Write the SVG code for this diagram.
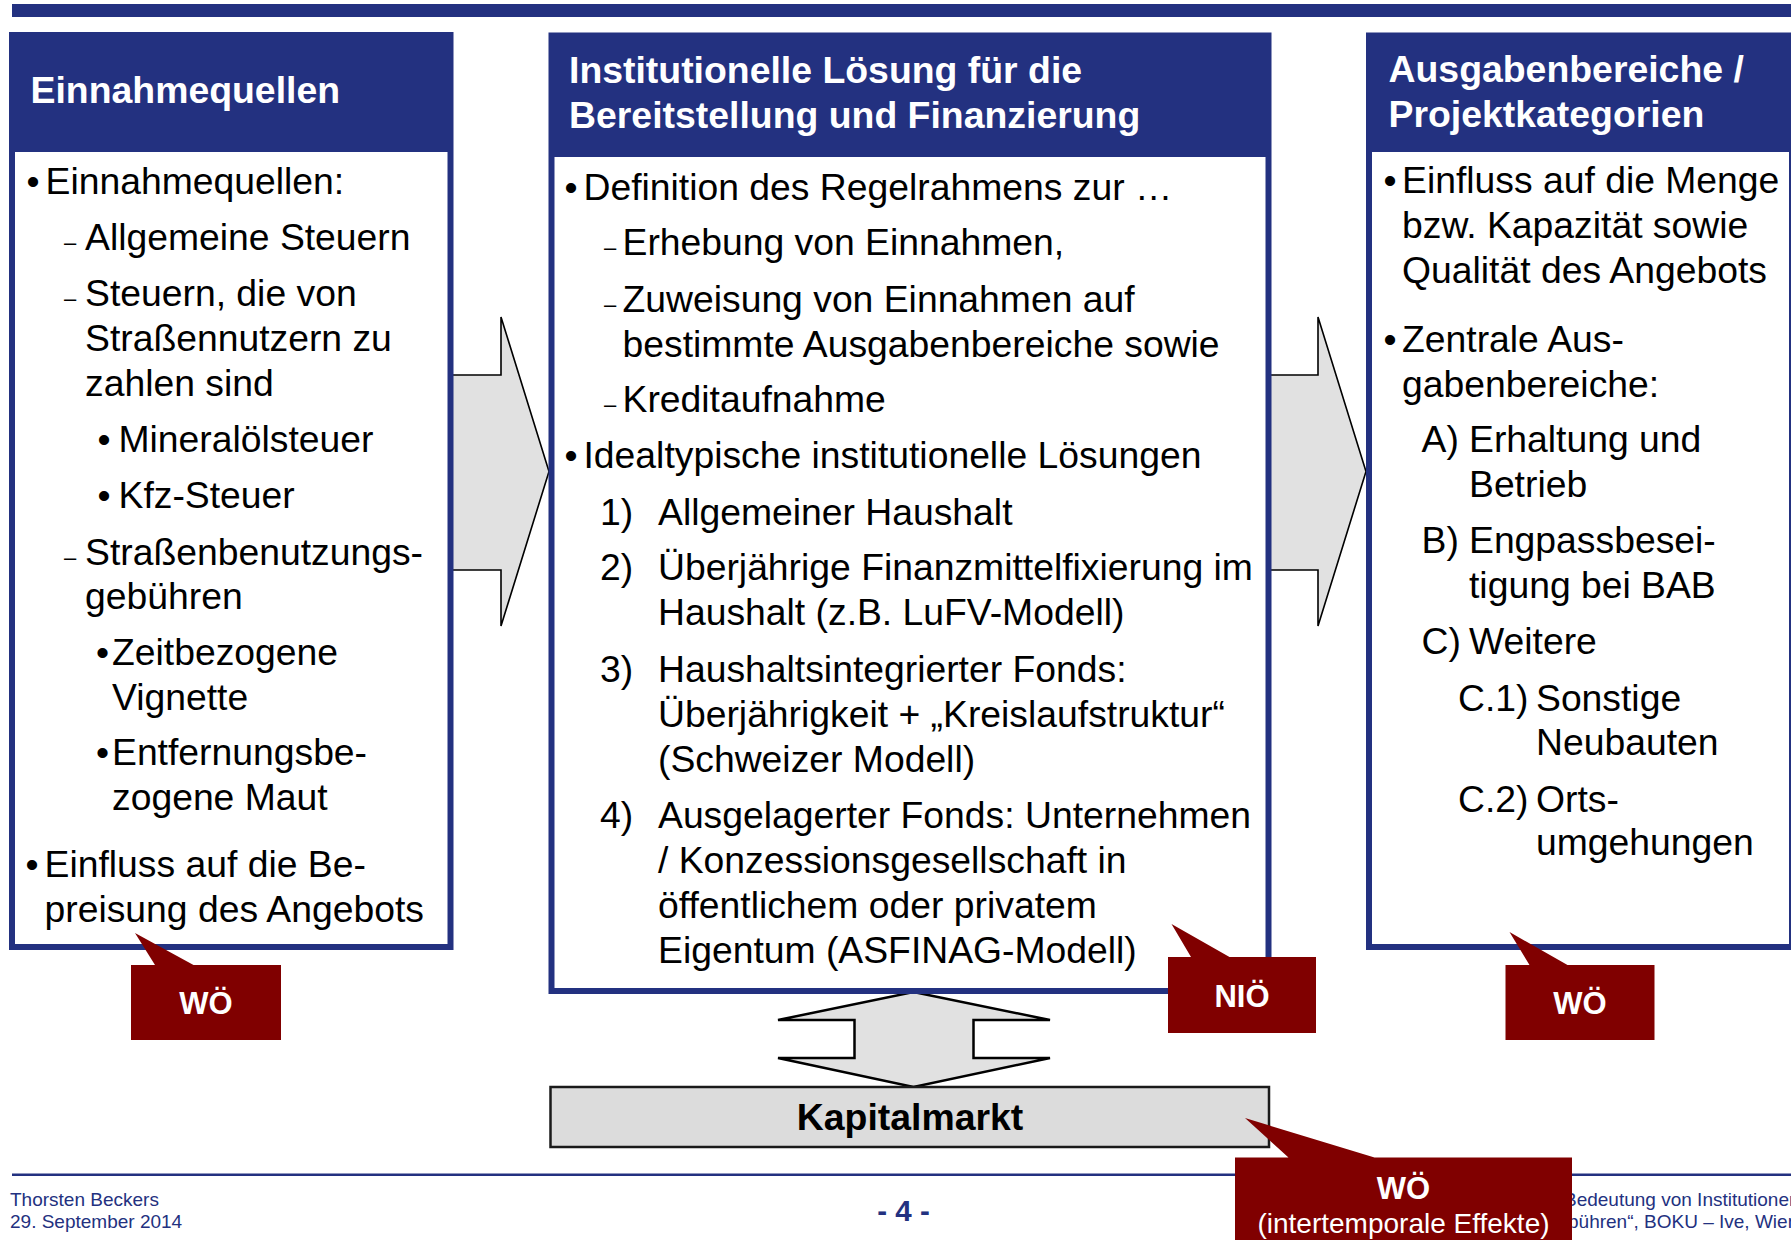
<svg xmlns="http://www.w3.org/2000/svg" width="1791" height="1240" viewBox="0 0 1791 1240">
  <style>
    text { font-family: "Liberation Sans", Arial, sans-serif; }
    .hdr { font-size: 37.4px; font-weight: bold; fill: #ffffff; }
    .txt { font-size: 37.3px; fill: #000000; }
    .dash { font-size: 22px; fill: #000000; }
    .frame { fill: #233180; }
    .inner { fill: #ffffff; }
    .arrow { fill: #e1e1e1; stroke: #000000; stroke-width: 1.6; stroke-linejoin: miter; }
    .arrow2 { fill: #e1e1e1; stroke: #000000; stroke-width: 2.5; stroke-linejoin: miter; }
    .callout { fill: #800000; }
    .cltxt { font-size: 31px; font-weight: bold; fill: #ffffff; text-anchor: middle; }
    .clsub { font-size: 28px; fill: #ffffff; text-anchor: middle; }
    .foot { font-size: 19px; fill: #233180; }
  </style>

  <rect width="1791" height="1240" fill="#ffffff"/>

  <!-- title bar -->
  <rect id="top-bar" x="12" y="4" width="1779" height="13" fill="#233180"/>

  <!-- block arrows between the columns -->
  <g id="connectors">
    <polygon class="arrow" points="440,375 501,375 501,317 549,471.5 501,626 501,570 440,570"/>
    <polygon class="arrow" points="1260,375 1318,375 1318,317 1366,471.5 1318,626 1318,570 1260,570"/>
    <polygon class="arrow2" points="913.5,992 1050,1020 973.5,1020 973.5,1058 1050,1058 913.5,1087 778,1058 854.5,1058 854.5,1020 778,1020"/>
  </g>

  <!-- left column -->
  <g id="node-einnahmequellen">
    <rect class="frame" x="9" y="32" width="444.5" height="918"/>
    <rect class="inner" x="15" y="152" width="432.5" height="792"/>
    <text class="hdr" x="30.5" y="103">Einnahmequellen</text>
    <text class="txt" x="26.5" y="194">•</text>
    <text class="txt" x="45.5" y="194">Einnahmequellen:</text>
    <text class="dash" x="64" y="250">–</text>
    <text class="txt" x="85" y="250">Allgemeine Steuern</text>
    <text class="dash" x="64" y="306">–</text>
    <text class="txt" x="85" y="306">Steuern, die von</text>
    <text class="txt" x="85" y="351">Straßennutzern zu</text>
    <text class="txt" x="85" y="396">zahlen sind</text>
    <text class="txt" x="97.5" y="452">•</text>
    <text class="txt" x="118.5" y="452">Mineralölsteuer</text>
    <text class="txt" x="97.5" y="508">•</text>
    <text class="txt" x="118.5" y="508">Kfz-Steuer</text>
    <text class="dash" x="64" y="565">–</text>
    <text class="txt" x="85" y="565">Straßenbenutzungs-</text>
    <text class="txt" x="85" y="609">gebühren</text>
    <text class="txt" x="96" y="665">•</text>
    <text class="txt" x="112" y="665">Zeitbezogene</text>
    <text class="txt" x="112" y="710">Vignette</text>
    <text class="txt" x="96" y="765">•</text>
    <text class="txt" x="112" y="765">Entfernungsbe-</text>
    <text class="txt" x="112" y="810">zogene Maut</text>
    <text class="txt" x="25.5" y="877">•</text>
    <text class="txt" x="44.5" y="877">Einfluss auf die Be-</text>
    <text class="txt" x="44.5" y="922">preisung des Angebots</text>
  </g>

  <!-- centre column -->
  <g id="node-institutionelle-loesung">
    <rect class="frame" x="548.5" y="32.5" width="723" height="961.5"/>
    <rect class="inner" x="554.5" y="157" width="711" height="831"/>
    <text class="hdr" x="569" y="83">Institutionelle Lösung für die</text>
    <text class="hdr" x="569" y="128">Bereitstellung und Finanzierung</text>
    <text class="txt" x="564.5" y="200">•</text>
    <text class="txt" x="583.5" y="200">Definition des Regelrahmens zur …</text>
    <text class="dash" x="604" y="255">–</text>
    <text class="txt" x="622.5" y="255">Erhebung von Einnahmen,</text>
    <text class="dash" x="604" y="311.5">–</text>
    <text class="txt" x="622.5" y="311.5">Zuweisung von Einnahmen auf</text>
    <text class="txt" x="622.5" y="356.5">bestimmte Ausgabenbereiche sowie</text>
    <text class="dash" x="604" y="411.5">–</text>
    <text class="txt" x="622.5" y="411.5">Kreditaufnahme</text>
    <text class="txt" x="564.5" y="468">•</text>
    <text class="txt" x="583.5" y="468">Idealtypische institutionelle Lösungen</text>
    <text class="txt" x="600" y="525">1)</text>
    <text class="txt" x="658" y="525">Allgemeiner Haushalt</text>
    <text class="txt" x="600" y="580">2)</text>
    <text class="txt" x="658" y="580">Überjährige Finanzmittelfixierung im</text>
    <text class="txt" x="658" y="625">Haushalt (z.B. LuFV-Modell)</text>
    <text class="txt" x="600" y="681.5">3)</text>
    <text class="txt" x="658" y="681.5">Haushaltsintegrierter Fonds:</text>
    <text class="txt" x="658" y="726.5">Überjährigkeit + „Kreislaufstruktur“</text>
    <text class="txt" x="658" y="771.5">(Schweizer Modell)</text>
    <text class="txt" x="600" y="828">4)</text>
    <text class="txt" x="658" y="828">Ausgelagerter Fonds: Unternehmen</text>
    <text class="txt" x="658" y="873">/ Konzessionsgesellschaft in</text>
    <text class="txt" x="658" y="918">öffentlichem oder privatem</text>
    <text class="txt" x="658" y="963">Eigentum (ASFINAG-Modell)</text>
  </g>

  <!-- right column -->
  <g id="node-ausgabenbereiche">
    <rect class="frame" x="1366" y="32.5" width="428" height="917.5"/>
    <rect class="inner" x="1372" y="152" width="417" height="792"/>
    <text class="hdr" x="1388.5" y="81.5">Ausgabenbereiche /</text>
    <text class="hdr" x="1388.5" y="126.5">Projektkategorien</text>
    <text class="txt" x="1383.5" y="193">•</text>
    <text class="txt" x="1402" y="193">Einfluss auf die Menge</text>
    <text class="txt" x="1402" y="238">bzw. Kapazität sowie</text>
    <text class="txt" x="1402" y="283">Qualität des Angebots</text>
    <text class="txt" x="1383.5" y="351.5">•</text>
    <text class="txt" x="1402" y="351.5">Zentrale Aus-</text>
    <text class="txt" x="1402" y="396.5">gabenbereiche:</text>
    <text class="txt" x="1421.5" y="451.5">A)</text>
    <text class="txt" x="1469" y="451.5">Erhaltung und</text>
    <text class="txt" x="1469" y="496.5">Betrieb</text>
    <text class="txt" x="1421.5" y="553">B)</text>
    <text class="txt" x="1469" y="553">Engpassbesei-</text>
    <text class="txt" x="1469" y="598">tigung bei BAB</text>
    <text class="txt" x="1421.5" y="654">C)</text>
    <text class="txt" x="1469" y="654">Weitere</text>
    <text class="txt" x="1458" y="710.5">C.1)</text>
    <text class="txt" x="1536" y="710.5">Sonstige</text>
    <text class="txt" x="1536" y="755">Neubauten</text>
    <text class="txt" x="1458" y="811.5">C.2)</text>
    <text class="txt" x="1536" y="811.5">Orts-</text>
    <text class="txt" x="1536" y="855">umgehungen</text>
  </g>

  <!-- capital market -->
  <g id="node-kapitalmarkt">
    <rect x="550.5" y="1087" width="718.5" height="60" fill="#dcdcdc" stroke="#1a1a1a" stroke-width="2.5"/>
    <text x="910" y="1130" font-size="37.4" font-weight="bold" text-anchor="middle" fill="#000000">Kapitalmarkt</text>
  </g>

  <!-- footer -->
  <g id="footer">
    <rect x="12" y="1173.5" width="1779" height="2.5" fill="#233180"/>
    <text class="foot" x="10" y="1206">Thorsten Beckers</text>
    <text class="foot" x="10" y="1228">29. September 2014</text>
    <text x="903.5" y="1221" font-size="29.5" font-weight="bold" fill="#233180" text-anchor="middle">- 4 -</text>
    <text class="foot" x="1564" y="1206">Bedeutung von Institutionen</text>
    <text class="foot" x="1568" y="1228">bühren“, BOKU – Ive, Wien</text>
  </g>

  <!-- rating callouts -->
  <g id="callout-wo-left">
    <polygon class="callout" points="131,965 155,965 135,933 193.5,965 281,965 281,1040 131,1040"/>
    <text class="cltxt" x="206" y="1014">WÖ</text>
  </g>
  <g id="callout-nio">
    <polygon class="callout" points="1168,957 1191,957 1171.5,924 1229.5,957 1316,957 1316,1033 1168,1033"/>
    <text class="cltxt" x="1242" y="1007">NIÖ</text>
  </g>
  <g id="callout-wo-right">
    <polygon class="callout" points="1505.5,965 1529.5,965 1509.5,932 1567.5,965 1654.5,965 1654.5,1040 1505.5,1040"/>
    <text class="cltxt" x="1580" y="1014">WÖ</text>
  </g>
  <g id="callout-wo-intertemporal">
    <polygon class="callout" points="1235,1157.5 1288.5,1157.5 1245,1118 1374.5,1157.5 1572,1157.5 1572,1245 1235,1245"/>
    <text class="cltxt" x="1403.5" y="1199">WÖ</text>
    <text class="clsub" x="1403.5" y="1233">(intertemporale Effekte)</text>
  </g>
</svg>
